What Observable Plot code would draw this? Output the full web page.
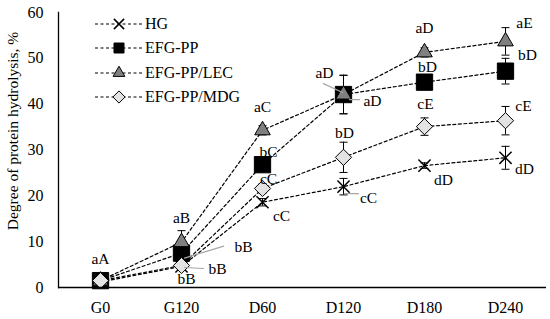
<!DOCTYPE html>
<html><head><meta charset="utf-8">
<script src="https://cdn.jsdelivr.net/npm/d3@7"></script>
<script src="https://cdn.jsdelivr.net/npm/@observablehq/plot@0.6"></script>
<style>
body{margin:0;background:#fff;}
#wrap{position:relative;width:550px;height:319px;font-family:"Liberation Serif","Times New Roman",serif;color:#000;}
#legend{position:absolute;left:95px;top:12px;}
.row{display:flex;align-items:center;height:24.3px;font-size:16px;white-space:nowrap;}
.row svg{display:block;margin-right:2px;}
#ytitle{position:absolute;left:13px;top:131px;transform:translate(-50%,-50%) rotate(-90deg);font-size:15.5px;white-space:nowrap;line-height:1;}
</style></head><body><div id="wrap"><div id="legend"></div><div id="ytitle"></div></div>
<script>
// ---- data ----
const categories = ["G0", "G120", "D60", "D120", "D180", "D240"];
const seriesNames = ["HG", "EFG-PP", "EFG-PP/LEC", "EFG-PP/MDG"];
const hgValues  = [1.2, 4.6, 18.6, 22.0, 26.6, 28.3];
const ppValues  = [1.5, 7.5, 26.8, 42.1, 44.8, 47.2];
const lecValues = [1.5, 9.9, 34.3, 42.1, 51.3, 53.7];
const mdgValues = [1.5, 4.8, 21.6, 28.4, 35.1, 36.4];
const hgErr  = [0.3, 0.5, 0.8, 1.8, 0.6, 2.5];
const ppErr  = [0.5, 1.5, 1.0, 4.2, 1.0, 2.8];
const lecErr = [0.5, 2.5, 1.0, 4.2, 1.0, 3.0];
const mdgErr = [0.5, 1.0, 1.0, 3.3, 1.9, 3.1];
const hgLetters  = ["", "bB", "cC", "cC", "dD", "dD"];
const ppLetters  = ["", "bB", "bC", "aD", "bD", "bD"];
const lecLetters = ["aA", "aB", "aC", "aD", "aD", "aE"];
const mdgLetters = ["", "bB", "cC", "bD", "cE", "cE"];
const yTicks = [0, 10, 20, 30, 40, 50, 60];
const yTitle = "Degree of protein hydrolysis, %";

// ---- layout (label offsets in px, per series, per category) ----
const labelOffsets = {
  "HG":         [[0,0],[5,13],[19,14],[25,11],[19,14],[19,11]],
  "EFG-PP":     [[0,0],[62,-6],[6,-13],[29,6],[3,-15],[22,-16]],
  "EFG-PP/LEC": [[0,-22],[0,-24],[0,-23],[-19,-22],[0,-24],[19,-18]],
  "EFG-PP/MDG": [[0,0],[36,4],[6,-9],[1,-24],[1,-23],[18,-15]]
};
const leaderSpec = [
  {series:"EFG-PP", cat:"G120", dx:3, dy:5, length:41, rotate:73},
  {series:"EFG-PP/MDG", cat:"G120", dx:3, dy:2, length:19, rotate:93},
  {series:"EFG-PP/LEC", cat:"D120", dx:-1, dy:-2, length:21, rotate:-65},
  {series:"EFG-PP", cat:"D120", dx:6, dy:5, length:10, rotate:90},
  {series:"HG", cat:"D120", dx:1, dy:7, length:14, rotate:90}
];

const series = [
  {name: seriesNames[0], values: hgValues, err: hgErr, letters: hgLetters,
   symbol: "times", r: 5.6, fill: "none", stroke: "black", sw: 1.5},
  {name: seriesNames[1], values: ppValues, err: ppErr, letters: ppLetters,
   symbol: "square", r: 9.2, fill: "black", stroke: "black", sw: 1},
  {name: seriesNames[2], values: lecValues, err: lecErr, letters: lecLetters,
   symbol: "triangle", r: 5.8, fill: "#808080", stroke: "black", sw: 1},
  {name: seriesNames[3], values: mdgValues, err: mdgErr, letters: mdgLetters,
   symbol: "diamond2", r: 7.3, fill: "#e3e3e3", stroke: "black", sw: 1}
];

const rows = [];
series.forEach((s) => categories.forEach((c, i) => rows.push({
  series: s.name, cat: c, v: s.values[i], e: s.err[i], label: s.letters[i],
  dx: labelOffsets[s.name][i][0], dy: labelOffsets[s.name][i][1]
})));
const valueOf = (name, cat) => rows.find(d => d.series === name && d.cat === cat).v;

const capSymbol = {draw(ctx) { ctx.moveTo(-4, 0); ctx.lineTo(4, 0); }};
const leaderShape = {draw(ctx, l) { ctx.moveTo(0, 0); ctx.lineTo(0, -l); }};

const marks = [
  Plot.axisY({ticks: yTicks, tickSize: 0, tickPadding: 15, fontSize: 16, label: null}),
  Plot.axisX({tickSize: 0, tickPadding: 14, fontSize: 16, label: null}),
  Plot.line(rows, {x: "cat", y: "v", z: "series", stroke: "black", strokeWidth: 1.2, strokeDasharray: "3,2.5"})
];
series.forEach(s => {
  const d = rows.filter(r => r.series === s.name);
  marks.push(
    Plot.ruleX(d, {x: "cat", y1: r => r.v - r.e, y2: r => r.v + r.e, stroke: "black", strokeWidth: 1}),
    Plot.dot(d, {x: "cat", y: r => r.v + r.e, symbol: capSymbol, stroke: "black", strokeWidth: 1, r: 3}),
    Plot.dot(d, {x: "cat", y: r => r.v - r.e, symbol: capSymbol, stroke: "black", strokeWidth: 1, r: 3}),
    Plot.dot(d, {x: "cat", y: "v", symbol: s.symbol, r: s.r, fill: s.fill, stroke: s.stroke, strokeWidth: s.sw})
  );
});
leaderSpec.forEach(l => {
  marks.push(Plot.vector([l], {x: () => l.cat, y: () => valueOf(l.series, l.cat), length: l.length, rotate: l.rotate,
    anchor: "start", shape: leaderShape, dx: l.dx, dy: l.dy, stroke: "#a6a6a6", strokeWidth: 1.2}));
});
seriesNames.forEach(name => {
  const d = rows.filter(r => r.series === name && r.label);
  d.forEach(r => marks.push(Plot.text([r], {x: "cat", y: "v", text: "label", dx: r.dx, dy: r.dy, fontSize: 15.5, fill: "black"})));
});
marks.push(Plot.ruleY([0], {stroke: "black", strokeWidth: 1.3}));
marks.push(Plot.frame({anchor: "left", stroke: "black", strokeWidth: 1.3}));

const chart = Plot.plot({
  width: 550, height: 319,
  marginLeft: 58, marginRight: 4, marginTop: 12, marginBottom: 32,
  x: {type: "point", domain: categories, padding: 0.5},
  y: {domain: [0, 60]},
  style: {fontFamily: '"Liberation Serif", "Times New Roman", serif', color: "black", background: "white", overflow: "visible"},
  marks
});
const wrap = document.getElementById("wrap");
wrap.insertBefore(chart, wrap.firstChild);
document.getElementById("ytitle").textContent = yTitle;

// ---- legend ----
const legend = d3.select("#legend");
const legendSymbols = [
  {type: d3.symbolTimes, size: 70, fill: "none", sw: 1.5},
  {type: d3.symbolSquare, size: 100, fill: "black", sw: 1},
  {type: d3.symbolTriangle, size: 60, fill: "#808080", sw: 1},
  {type: d3.symbolDiamond2, size: 95, fill: "#e3e3e3", sw: 1}
];
series.forEach((s, i) => {
  const row = legend.append("div").attr("class", "row");
  const svg = row.append("svg").attr("width", 48).attr("height", 16);
  svg.append("line").attr("x1", 0).attr("x2", 48).attr("y1", 8).attr("y2", 8)
    .attr("stroke", "black").attr("stroke-width", 1.2).attr("stroke-dasharray", "3,2.5");
  const ls = legendSymbols[i];
  svg.append("path").attr("transform", "translate(24,8)")
    .attr("d", d3.symbol(ls.type, ls.size)())
    .attr("fill", ls.fill).attr("stroke", "black").attr("stroke-width", ls.sw);
  row.append("span").text(s.name);
});
</script></body></html>
